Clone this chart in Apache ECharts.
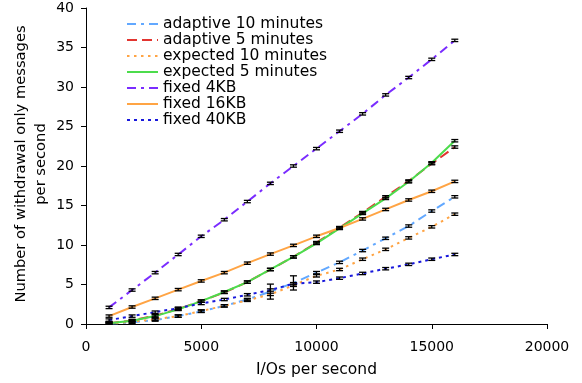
<!DOCTYPE html>
<html>
<head>
<meta charset="utf-8">
<script src="https://cdn.jsdelivr.net/npm/echarts@6/dist/echarts.min.js"></script>
<style>html,body{margin:0;padding:0;background:#fff}#c{width:582px;height:383px}</style>
</head>
<body>
<div id="c"></div>
<script>
var xValues = [1000,2000,3000,4000,5000,6000,7000,8000,9000,10000,11000,12000,13000,14000,15000,16000];
var adaptive10 = [0.05,0.2,0.5,1.0,1.6,2.3,3.1,4.1,5.2,6.5,7.8,9.3,10.85,12.4,14.3,16.1];
var adaptive5 = [0.1,0.45,1.05,1.9,2.9,4.0,5.3,6.9,8.5,10.3,12.2,14.1,16.1,18.1,20.3,22.4];
var expected10 = [0.05,0.3,0.6,1.0,1.65,2.3,3.0,3.75,4.9,6.1,6.9,8.2,9.45,10.9,12.3,13.9];
var expected5 = [0.1,0.4,1.0,1.85,2.9,4.05,5.3,6.9,8.5,10.2,12.1,14.0,15.9,18.0,20.4,23.2];
var fixed4 = [2.1,4.3,6.5,8.8,11.1,13.2,15.5,17.8,20.0,22.2,24.4,26.6,29.0,31.2,33.5,35.9];
var fixed16 = [1.0,2.15,3.25,4.35,5.45,6.5,7.7,8.85,9.95,11.1,12.15,13.3,14.5,15.7,16.8,18.05];
var fixed40 = [0.5,1.0,1.5,2.0,2.6,3.1,3.7,4.3,5.1,5.3,5.8,6.4,7.0,7.55,8.2,8.8];
var names = ['adaptive 10 minutes','adaptive 5 minutes','expected 10 minutes','expected 5 minutes','fixed 4KB','fixed 16KB','fixed 40KB'];
var yTitle = 'Number of withdrawal only messages\nper second';
var errSmall = 0.15;
var adaptive10Err = [0.15,0.15,0.15,0.15,0.15,0.15,0.15,0.95,0.9,0.15,0.15,0.15,0.15,0.15,0.15,0.15];

var allSeries = [adaptive10, adaptive5, expected10, expected5, fixed4, fixed16, fixed40];
var colors = ['#62a8ff','#e23530','#ffa444','#4cdc4c','#7a2cff','#ffa444','#1818dc'];
var dashes = [[9,5,3,5],[10,5],[2.5,4.5],'solid',[9,5,3,5],'solid',[3,4]];

function pairs(ys){ return xValues.map(function(x,i){ return [x, ys[i]]; }); }

var errData = [];
allSeries.forEach(function(ys, s){
  ys.forEach(function(y, i){
    var e = s === 0 ? adaptive10Err[i] : errSmall;
    errData.push([xValues[i], Math.max(0, y - e), y + e]);
  });
});

var series = allSeries.map(function(ys, s){
  return {
    name: names[s], type: 'line', data: pairs(ys), symbol: 'none', silent: true,
    lineStyle: { color: colors[s], width: 2, type: dashes[s] },
    itemStyle: { color: colors[s] }, z: 2
  };
});
series.push({
  type: 'custom', silent: true, z: 5,
  data: errData,
  renderItem: function(params, api){
    var x = api.value(0);
    var lo = api.coord([x, api.value(1)]);
    var hi = api.coord([x, api.value(2)]);
    var w = 3.5;
    var st = { stroke: '#000', lineWidth: 1.3 };
    return { type: 'group', children: [
      { type: 'line', shape: { x1: lo[0], y1: lo[1], x2: hi[0], y2: hi[1] }, style: st },
      { type: 'line', shape: { x1: lo[0]-w, y1: lo[1], x2: lo[0]+w, y2: lo[1] }, style: st },
      { type: 'line', shape: { x1: hi[0]-w, y1: hi[1], x2: hi[0]+w, y2: hi[1] }, style: st }
    ]};
  }
});

var font = 'DejaVu Sans';
var chart = echarts.init(document.getElementById('c'), null, { renderer: 'canvas' });
chart.setOption({
  animation: false,
  backgroundColor: '#fff',
  textStyle: { fontFamily: font },
  grid: { left: 86, right: 35, top: 8, bottom: 59, containLabel: false, outerBoundsMode: 'none' },
  graphic: [{
    type: 'text', x: 31, y: 164, rotation: Math.PI / 2, silent: true,
    style: { text: yTitle, fill: '#000', font: '14.7px "DejaVu Sans"', align: 'center', verticalAlign: 'middle', lineHeight: 20 }
  }],
  legend: {
    data: names, orient: 'vertical', left: 126, top: 16,
    itemWidth: 31, itemHeight: 12, itemGap: 0,
    itemStyle: { opacity: 0 },
    textStyle: { fontFamily: font, fontSize: 15.5, color: '#000', lineHeight: 15.3, padding: 0 },
    padding: 0,
    selectedMode: false
  },
  xAxis: {
    type: 'value', min: 0, max: 20000, interval: 5000,
    name: 'I/Os per second', nameLocation: 'middle', nameGap: 38,
    nameTextStyle: { fontFamily: font, fontSize: 15.5, color: '#000' },
    axisLine: { lineStyle: { color: '#000', width: 1 } },
    axisTick: { show: true, length: 5, lineStyle: { color: '#000' } },
    axisLabel: { fontFamily: font, fontSize: 14, color: '#000', margin: 16, formatter: function(v){ return String(v); } },
    splitLine: { show: false }
  },
  yAxis: {
    type: 'value', min: 0, max: 40, interval: 5,
    axisLine: { show: true, lineStyle: { color: '#000', width: 1 } },
    axisTick: { show: true, length: 5, lineStyle: { color: '#000' } },
    axisLabel: { fontFamily: font, fontSize: 14, color: '#000', margin: 12, formatter: function(v){ return String(v); } },
    splitLine: { show: false }
  },
  series: series
});
</script>
</body>
</html>
